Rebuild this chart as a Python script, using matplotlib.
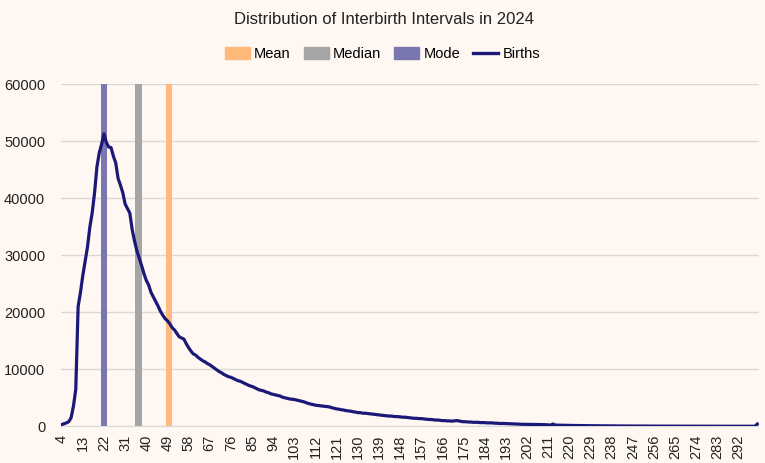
import matplotlib.pyplot as plt
from matplotlib.patches import Patch
from matplotlib.lines import Line2D

# =========================
# data
# =========================
intervals = list(range(4, 301))

births = [
    300, 450, 600, 800, 1500, 3500,
    6500, 21000, 23500, 26500, 29000, 31500, 35000, 37500, 41000, 45500,
    48000, 49500, 51300, 49800, 49000, 48900, 47400, 46200, 43500, 42300,
    41000, 39000, 38200, 37400, 34500, 32500, 30800, 29500, 28200, 26800,
    25600, 24800, 23500, 22700, 21900, 21100, 20200, 19500, 18900, 18500,
    18000, 17300, 16900, 16300, 15700, 15500, 15300, 14500, 13800, 13200,
    12700, 12500, 12100, 11800, 11500, 11300, 11000, 10800, 10500, 10200,
    9900, 9600, 9400, 9100, 8900, 8700, 8600, 8400, 8200, 8000,
    7900, 7700, 7500, 7300, 7100, 7000, 6800, 6600, 6400, 6300,
    6200, 6000, 5900, 5700, 5600, 5500, 5400, 5300, 5100, 5000,
    4900, 4800, 4750, 4700, 4600, 4500, 4400, 4300, 4150, 4000,
    3900, 3800, 3700, 3650, 3600, 3550, 3500, 3450, 3400, 3250,
    3150, 3050, 3000, 2900, 2850, 2750, 2700, 2650, 2550, 2500,
    2400, 2400, 2300, 2300, 2250, 2200, 2150, 2100, 2050, 2000,
    1950, 1900, 1850, 1800, 1800, 1750, 1700, 1700, 1650, 1600,
    1600, 1550, 1500, 1450, 1400, 1400, 1350, 1350, 1300, 1250,
    1200, 1200, 1150, 1100, 1100, 1050, 1000, 1000, 950, 950,
    900, 950, 1000, 950, 850, 800, 800, 750, 750, 700,
    700, 700, 650, 650, 650, 600, 600, 600, 550, 550,
    500, 500, 500, 480, 450, 450, 420, 400, 380, 350,
    350, 350, 340, 330, 330, 320, 320, 310, 300, 300,
    280, 250, 200, 400, 220, 200, 190, 180, 170, 160,
    150, 150, 140, 140, 130, 130, 120, 120, 110, 110,
    100, 100, 95, 90, 90, 85, 80, 80, 75, 70,
    70, 65, 60, 60, 55, 55, 50, 50, 50, 45,
    45, 45, 40, 40, 40, 35, 35, 35, 35, 30,
    30, 30, 30, 30, 25, 25, 25, 25, 25, 20,
    20, 20, 20, 20, 20, 20, 15, 15, 15, 15,
    15, 15, 15, 15, 10, 10, 10, 10, 10, 10,
    10, 10, 10, 10, 10, 10, 10, 10, 10, 10,
    400,
]

stat_names = ["Mean", "Median", "Mode"]
stat_positions = [49.7, 36.6, 22]
stat_heights = [60000, 60000, 60000]
stat_colors = ["#FFB97A", "#A5A5A5", "#7A76B0"]

line_color = "#1B1878"
bg_color = "#FEF7F2"

x_tick_labels = list(range(4, 293, 9))
y_ticks = [0, 10000, 20000, 30000, 40000, 50000, 60000]

narrow = ["Liberation Sans Narrow", "Liberation Sans", "DejaVu Sans"]

# =========================
# figure
# =========================
fig = plt.figure(figsize=(7.65, 4.63), dpi=100, facecolor=bg_color)
ax = fig.add_axes([60.5 / 765, 1 - 426.3 / 463, 698 / 765, (426.3 - 84.3) / 463])
ax.set_facecolor(bg_color)

for name, pos, h, col in zip(stat_names, stat_positions, stat_heights, stat_colors):
    ax.bar(pos, h, width=2.85, color=col, zorder=2)

ax.plot(intervals, births, color=line_color, lw=2.3, zorder=3,
        solid_joinstyle="round")

ax.set_xlim(3.5, 300.5)
ax.set_ylim(0, 60000)
ax.set_yticks(y_ticks)
ax.set_yticklabels([str(v) for v in y_ticks], fontsize=10.5,
                   family="Liberation Sans", color="#222222")
ax.set_xticks(x_tick_labels)
ax.set_xticklabels([str(v) for v in x_tick_labels], rotation=90,
                   fontsize=10.5, family="Liberation Sans", color="#222222")
ax.tick_params(axis="x", length=0, pad=6)
ax.tick_params(axis="y", length=0, pad=11)

ax.grid(axis="y", color="#D9D9D9", lw=1, zorder=0)
for s in ["top", "right", "left"]:
    ax.spines[s].set_visible(False)
ax.spines["bottom"].set_color("#D9D9D9")

fig.text(0.502, 1 - 19 / 463, "Distribution of Interbirth Intervals in 2024",
         ha="center", va="center", fontsize=12, family=narrow,
         color="#222222")

handles = [Patch(color=c, label=n) for n, c in zip(stat_names, stat_colors)]
handles.append(Line2D([0], [0], color=line_color, lw=2.4, label="Births"))
fig.legend(handles=handles, loc="center", bbox_to_anchor=(0.5, 1 - 54 / 463),
           ncol=4, frameon=False, handlelength=1.7, handleheight=0.8,
           columnspacing=0.9, handletextpad=0.3,
           prop={"family": narrow, "size": 10.5})

fig.savefig("out.png", dpi=100, facecolor=bg_color)
